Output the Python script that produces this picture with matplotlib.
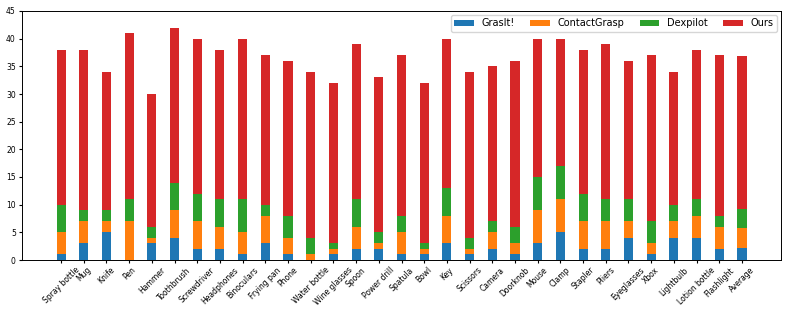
import matplotlib
matplotlib.use("Agg")
import matplotlib.pyplot as plt
import numpy as np

categories = ["Spray bottle", "Mug", "Knife", "Pen", "Hammer", "Toothbrush", "Screwdriver",
              "Headphones", "Binoculars", "Frying pan", "Phone", "Water bottle", "Wine glasses",
              "Spoon", "Power drill", "Spatula", "Bowl", "Key", "Scissors", "Camera", "Doorknob",
              "Mouse", "Clamp", "Stapler", "Pliers", "Eyeglasses", "Xbox", "Lightbulb",
              "Lotion bottle", "Flashlight", "Average"]

# bar top values (each series drawn from 0, later series drawn on top)
graspit = [1, 3, 5, 0, 3, 4, 2, 2, 1, 3, 1, 0, 1, 2, 2, 1, 1, 3, 1, 2, 1, 3, 5, 2, 2, 4, 1, 4, 4, 2, 2.2]
contactgrasp = [5, 7, 7, 7, 4, 9, 7, 6, 5, 8, 4, 1, 2, 6, 3, 5, 2, 8, 2, 5, 3, 9, 11, 7, 7, 7, 3, 7, 8, 6, 5.7]
dexpilot = [10, 9, 9, 11, 6, 14, 12, 11, 11, 10, 8, 4, 3, 11, 5, 8, 3, 13, 4, 7, 6, 15, 17, 12, 11, 11, 7, 10, 11, 8, 9.23]
ours = [38, 38, 34, 41, 30, 42, 40, 38, 40, 37, 36, 34, 32, 39, 33, 37, 32, 40, 34, 35, 36, 40, 40, 38, 39, 36, 37, 34, 38, 37, 36.83]

fig = plt.figure(figsize=(7.89, 3.16), dpi=100)
ax = fig.add_axes([22/789, 1 - 260/316, (781-22)/789, (260-11)/316])

x = np.arange(len(categories))
w = 0.4
h_ours = ax.bar(x, ours, w, color="#d62728", label="Ours", zorder=1)
h_dex = ax.bar(x, dexpilot, w, color="#2ca02c", label="Dexpilot", zorder=2)
h_cg = ax.bar(x, contactgrasp, w, color="#ff7f0e", label="ContactGrasp", zorder=3)
h_gi = ax.bar(x, graspit, w, color="#1f77b4", label="GrasIt!", zorder=4)

ax.set_xlim(-1.72, 31.72)
ax.set_ylim(0, 45)
ax.set_yticks(np.arange(0, 46, 5))
ax.set_xticks(x)
ax.set_xticklabels(categories, rotation=45, ha="center", fontsize=5.5)
ax.tick_params(axis="y", labelsize=5.5, length=2.5, pad=2)
ax.tick_params(axis="x", length=2.5, pad=1.5)
for s in ax.spines.values():
    s.set_linewidth(0.7)

ax.legend([h_gi, h_cg, h_dex, h_ours], ["GrasIt!", "ContactGrasp", "Dexpilot", "Ours"],
          loc="upper right", ncol=4, fontsize=7, handlelength=2.0, handleheight=0.6,
          columnspacing=1.6, handletextpad=0.8, borderaxespad=0.4, borderpad=0.35)

fig.savefig("out.png", dpi=100)
